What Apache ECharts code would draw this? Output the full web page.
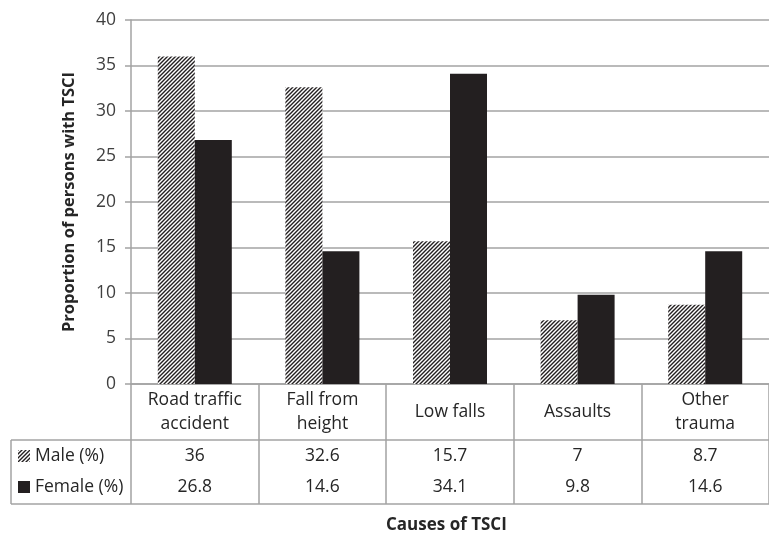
<!DOCTYPE html>
<html>
<head>
<meta charset="utf-8">
<script src="https://cdn.jsdelivr.net/npm/echarts@6/dist/echarts.min.js"></script>
<style>
  html, body { margin: 0; padding: 0; background: #fff; }
  #chart { width: 769px; height: 535px; }
</style>
</head>
<body>
<div id="chart"></div>
<script>
// Causes of traumatic spinal cord injury, by sex
const categories = ['Road traffic accident', 'Fall from height', 'Low falls', 'Assaults', 'Other trauma'];
const categoryLabels = [['Road traffic', 'accident'], ['Fall from', 'height'], ['Low falls'], ['Assaults'], ['Other', 'trauma']];
const seriesNames = ['Male (%)', 'Female (%)'];
const maleValues = [36, 32.6, 15.7, 7, 8.7];
const femaleValues = [26.8, 14.6, 34.1, 9.8, 14.6];
const yTicks = [0, 5, 10, 15, 20, 25, 30, 35, 40];

// diagonal hatch used for the male bars
function makeHatch() {
  const c = document.createElement('canvas');
  c.width = 4; c.height = 4;
  const g = c.getContext('2d');
  g.fillStyle = '#ffffff';
  g.fillRect(0, 0, 4, 4);
  g.strokeStyle = '#231f20';
  g.lineWidth = 1.4;
  g.beginPath();
  g.moveTo(-1, 5); g.lineTo(5, -1);
  g.moveTo(-1, 1); g.lineTo(1, -1);
  g.moveTo(3, 5); g.lineTo(5, 3);
  g.stroke();
  return c;
}
const hatch = { image: makeHatch(), repeat: 'repeat' };

const FONT = 'Open Sans';
const FS = 17.5;
const GRID_LEFT = 131, GRID_TOP = 20, GRID_RIGHT_X = 781, GRID_BOTTOM_Y = 384;
const LINE = '#a3a3a3';
const TXT = '#262626';

const chart = echarts.init(document.getElementById('chart'), null, { renderer: 'canvas' });

const labelAxis = (values, offset) => ({
  type: 'category',
  gridIndex: 0,
  position: 'bottom',
  data: categories,
  offset: offset,
  axisLine: { show: false },
  axisTick: { show: false },
  axisLabel: {
    interval: 0, margin: 6, color: TXT, fontFamily: FONT, fontSize: FS, lineHeight: 20,
    formatter: (v, i) => String(values[i])
  },
  splitLine: { show: false }
});

chart.setOption({
  animation: false,
  textStyle: { fontFamily: FONT },
  grid: { left: GRID_LEFT, top: GRID_TOP, right: 769 - GRID_RIGHT_X, bottom: 535 - GRID_BOTTOM_Y, containLabel: false },
  title: {
    text: 'Causes of TSCI', left: 381, top: 512,
    textStyle: { fontFamily: FONT, fontSize: 17, fontWeight: 'bold', color: TXT }
  },
  legend: {
    orient: 'vertical', left: 18, top: 446, padding: 0, itemGap: 11,
    itemWidth: 12, itemHeight: 12, icon: 'rect', selectedMode: false,
    data: seriesNames,
    textStyle: { fontFamily: FONT, fontSize: FS, color: TXT, lineHeight: 20 }
  },
  xAxis: [
    {
      type: 'category',
      data: categories,
      axisLine: { show: true, lineStyle: { color: LINE, width: 1.5 } },
      axisTick: { show: true, interval: 0, length: 120, lineStyle: { color: LINE, width: 1.5 } },
      axisLabel: {
        interval: 0, margin: 4, color: TXT, fontFamily: FONT, fontSize: FS,
        formatter: (v, i) => {
          const lines = categoryLabels[i];
          return lines.length === 1
            ? '{one|' + lines[0] + '}'
            : lines.map(s => '{two|' + s + '}').join('\n');
        },
        rich: {
          one: { fontFamily: FONT, fontSize: FS, color: TXT, lineHeight: 48 },
          two: { fontFamily: FONT, fontSize: FS, color: TXT, lineHeight: 24 }
        }
      },
      splitLine: { show: false }
    },
    labelAxis(maleValues, 56),
    labelAxis(femaleValues, 87)
  ],
  yAxis: {
    type: 'value', min: yTicks[0], max: yTicks[yTicks.length - 1], interval: 5,
    name: 'Proportion of persons with TSCI', nameLocation: 'middle', nameGap: 53,
    nameTextStyle: { fontFamily: FONT, fontSize: 16.5, fontWeight: 'bold', color: TXT },
    axisLine: { show: true, lineStyle: { color: LINE, width: 1.5 } },
    axisTick: { show: true, length: 6, lineStyle: { color: LINE, width: 1.5 } },
    axisLabel: { color: '#404040', fontFamily: FONT, fontSize: FS, margin: 15 },
    splitLine: { show: true, lineStyle: { color: LINE, width: 1.5 } }
  },
  series: [
    {
      name: seriesNames[0], type: 'bar', xAxisIndex: 0, data: maleValues,
      barGap: '0%', barCategoryGap: '42%',
      itemStyle: { color: hatch }
    },
    {
      name: seriesNames[1], type: 'bar', xAxisIndex: 0, data: femaleValues,
      barGap: '0%', barCategoryGap: '42%',
      itemStyle: { color: '#231f20' }
    }
  ],
  graphic: [
    { type: 'line', shape: { x1: 11, y1: 440, x2: GRID_RIGHT_X, y2: 440 }, style: { stroke: LINE, lineWidth: 1.5 }, silent: true },
    { type: 'line', shape: { x1: 11, y1: 504, x2: GRID_RIGHT_X, y2: 504 }, style: { stroke: LINE, lineWidth: 1.5 }, silent: true },
    { type: 'line', shape: { x1: 11, y1: 440, x2: 11, y2: 504 }, style: { stroke: LINE, lineWidth: 1.5 }, silent: true }
  ]
});
</script>
</body>
</html>
